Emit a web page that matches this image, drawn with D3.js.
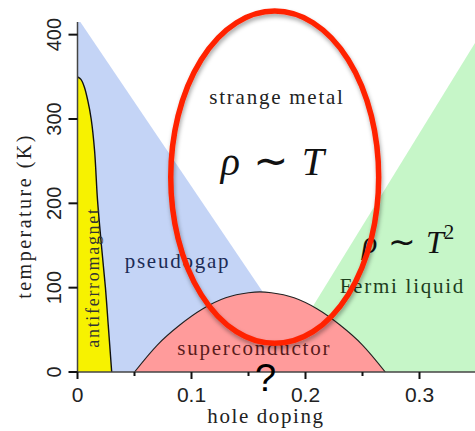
<!DOCTYPE html>
<html>
<head>
<meta charset="utf-8">
<script src="https://cdn.jsdelivr.net/npm/d3@7"></script>
<style>
  html, body { margin: 0; padding: 0; background: #fff; }
  svg { display: block; }
</style>
</head>
<body>
<div id="chart"></div>
<script>
const width = 475
const height = 431

// axis ticks
const xTicks = [0, 0.1, 0.2, 0.3]
const xMinorTicks = [0.05, 0.15, 0.25, 0.35]
const yTicks = [0, 100, 200, 300, 400]

// phase boundaries, [hole doping, temperature K]
const afBoundary = [[0, 350], [0.003, 347], [0.006, 338], [0.009, 322], [0.012, 300], [0.015, 262],
  [0.0175, 205], [0.021, 150], [0.0245, 100], [0.027, 55], [0.03, 0]]
const pseudogapLine = [[0, 420], [0.21, 0]]
const fermiLine = [[0.171, 0], [0.36, 415]]
const domeBoundary = [[0.05, 0], [0.07, 32], [0.09, 56], [0.11, 75], [0.13, 88], [0.15, 94],
  [0.16, 95], [0.17, 94], [0.19, 88], [0.21, 75], [0.23, 56], [0.25, 32], [0.27, 0]]

// region labels: text, doping, temperature
const labels = [
  {text: "strange metal", p: 0.175, t: 318, fill: "#222"},
  {text: "pseudogap", p: 0.0877, t: 123, fill: "#1c2b55"},
  {text: "Fermi liquid", p: 0.285, t: 94, fill: "#1d3d1d"},
  {text: "superconductor", p: 0.155, t: 20, fill: "#5a1c1c"}
]
// highlighted ellipse: centre doping, centre T, half widths
const highlight = {p: 0.173, t: 231, rp: 0.0912, rt: 197}

const x = d3.scaleLinear().domain([0, 0.35]).range([77.5, 476.5])
const y = d3.scaleLinear().domain([0, 415]).range([372, 22])

const svg = d3.select("#chart")
  .append("svg")
  .attr("width", width)
  .attr("height", height)
  .attr("viewBox", [0, 0, width, height])

const defs = svg.append("defs")
defs.append("clipPath").attr("id", "plot")
  .append("rect")
  .attr("x", x(0)).attr("y", y(415))
  .attr("width", x(0.35) - x(0)).attr("height", y(0) - y(415))

const shadow = defs.append("filter").attr("id", "shadow")
  .attr("x", "-20%").attr("y", "-20%").attr("width", "140%").attr("height", "140%")
shadow.append("feDropShadow")
  .attr("dx", 1).attr("dy", 3).attr("stdDeviation", 2)
  .attr("flood-color", "#000").attr("flood-opacity", 0.35)

const regions = svg.append("g").attr("clip-path", "url(#plot)")

// pseudogap (blue)
regions.append("path")
  .attr("d", d3.line()([[0, 0], ...pseudogapLine].map(d => [x(d[0]), y(d[1])])) + "Z")
  .attr("fill", "#c4d4f6")

// fermi liquid (green)
regions.append("path")
  .attr("d", d3.line()([...fermiLine, [0.5, 415], [0.5, 0]].map(d => [x(d[0]), y(d[1])])) + "Z")
  .attr("fill", "#c6f6c8")

const curve = d3.line().x(d => x(d[0])).y(d => y(d[1])).curve(d3.curveMonotoneX)
const afCurve = d3.line().x(d => x(d[0])).y(d => y(d[1])).curve(d3.curveCatmullRom)

// antiferromagnet (yellow)
regions.append("path")
  .attr("d", afCurve(afBoundary) + `L${x(0)},${y(0)}Z`)
  .attr("fill", "#f7f200")
regions.append("path")
  .attr("d", afCurve(afBoundary))
  .attr("fill", "none")
  .attr("stroke", "#111")
  .attr("stroke-width", 1.4)

// superconducting dome
regions.append("path")
  .attr("d", curve(domeBoundary) + "Z")
  .attr("fill", "#ff9b9b")
regions.append("path")
  .attr("d", curve(domeBoundary))
  .attr("fill", "none")
  .attr("stroke", "#222")
  .attr("stroke-width", 1.1)

// axes
const axisColor = "#444"
svg.append("line")
  .attr("x1", x(0)).attr("x2", width).attr("y1", y(0)).attr("y2", y(0))
  .attr("stroke", axisColor).attr("stroke-width", 1.5)
svg.append("line")
  .attr("x1", x(0)).attr("x2", x(0)).attr("y1", y(0)).attr("y2", y(415))
  .attr("stroke", axisColor).attr("stroke-width", 1.5)

svg.selectAll(".xtick").data(xTicks).join("line")
  .attr("x1", d => x(d)).attr("x2", d => x(d))
  .attr("y1", y(0)).attr("y2", y(0) + 7)
  .attr("stroke", "#111").attr("stroke-width", 2)
svg.selectAll(".xminor").data(xMinorTicks).join("line")
  .attr("x1", d => x(d)).attr("x2", d => x(d))
  .attr("y1", y(0)).attr("y2", y(0) + 4)
  .attr("stroke", "#111").attr("stroke-width", 2)
svg.selectAll(".ytick").data(yTicks).join("line")
  .attr("x1", x(0) - 9).attr("x2", x(0))
  .attr("y1", d => y(d)).attr("y2", d => y(d))
  .attr("stroke", "#111").attr("stroke-width", 2)

const sans = "'Liberation Sans', Arial, sans-serif"
const serif = "'Liberation Serif', 'Times New Roman', serif"

svg.selectAll(".xlabel").data(xTicks).join("text")
  .attr("x", d => x(d)).attr("y", 402)
  .attr("text-anchor", "middle")
  .style("font", `21px ${sans}`).attr("fill", "#222")
  .text(d => d3.format("")(d))

svg.selectAll(".ylabel").data(yTicks).join("text")
  .attr("transform", d => `translate(61,${y(d)}) rotate(-90)`)
  .attr("text-anchor", "middle")
  .style("font", `20px ${sans}`).attr("fill", "#222")
  .text(d => d)

svg.append("text")
  .attr("x", 266).attr("y", 423)
  .attr("text-anchor", "middle")
  .style("font", `21px ${serif}`).style("letter-spacing", "1.6px").attr("fill", "#222")
  .text("hole doping")

svg.append("text")
  .attr("transform", `translate(31,${y(185)}) rotate(-90)`)
  .attr("text-anchor", "middle")
  .style("font", `20px ${serif}`).style("letter-spacing", "2.5px").attr("fill", "#222")
  .text("temperature (K)")

// region labels
svg.selectAll(".region").data(labels).join("text")
  .attr("x", d => x(d.p)).attr("y", d => y(d.t))
  .attr("text-anchor", "middle")
  .style("font", `21px ${serif}`).style("letter-spacing", "1.75px").attr("fill", d => d.fill)
  .text(d => d.text)

svg.append("text")
  .attr("transform", `translate(${x(0.019)},${y(112)}) rotate(-90)`)
  .attr("text-anchor", "middle")
  .style("font", `18px ${serif}`).style("letter-spacing", "1.7px").attr("fill", "#333")
  .text("antiferromagnet")

// resistivity formulas
const rhoT = svg.append("text")
  .attr("x", x(0.171)).attr("y", y(234))
  .attr("text-anchor", "middle")
  .style("font", `40px ${serif}`).attr("fill", "#111")
rhoT.append("tspan").attr("font-style", "italic").text("ρ")
rhoT.append("tspan").style("font-family", "'DejaVu Sans', sans-serif").style("font-size", "42px").text(" ∼ ")
rhoT.append("tspan").attr("font-style", "italic").text("T")

const rhoT2 = svg.append("text")
  .attr("x", x(0.2496)).attr("y", y(141))
  .style("font", `32px ${serif}`).attr("fill", "#111")
rhoT2.append("tspan").attr("font-style", "italic").text("ρ")
rhoT2.append("tspan").style("font-family", "'DejaVu Sans', sans-serif").style("font-size", "33px").text(" ∼ ")
rhoT2.append("tspan").attr("font-style", "italic").text("T")
rhoT2.append("tspan").attr("dy", -14).style("font-size", "21px").text("2")

// red highlight
svg.append("ellipse")
  .attr("cx", x(highlight.p)).attr("cy", y(highlight.t))
  .attr("rx", x(highlight.rp) - x(0)).attr("ry", y(0) - y(highlight.rt))
  .attr("fill", "none")
  .attr("stroke", "#ff2400")
  .attr("stroke-width", 5.5)
  .attr("filter", "url(#shadow)")

svg.append("text")
  .attr("x", x(0.165)).attr("y", y(-23))
  .attr("text-anchor", "middle")
  .style("font", `38px ${sans}`).attr("fill", "#000")
  .text("?")
</script>
</body>
</html>
